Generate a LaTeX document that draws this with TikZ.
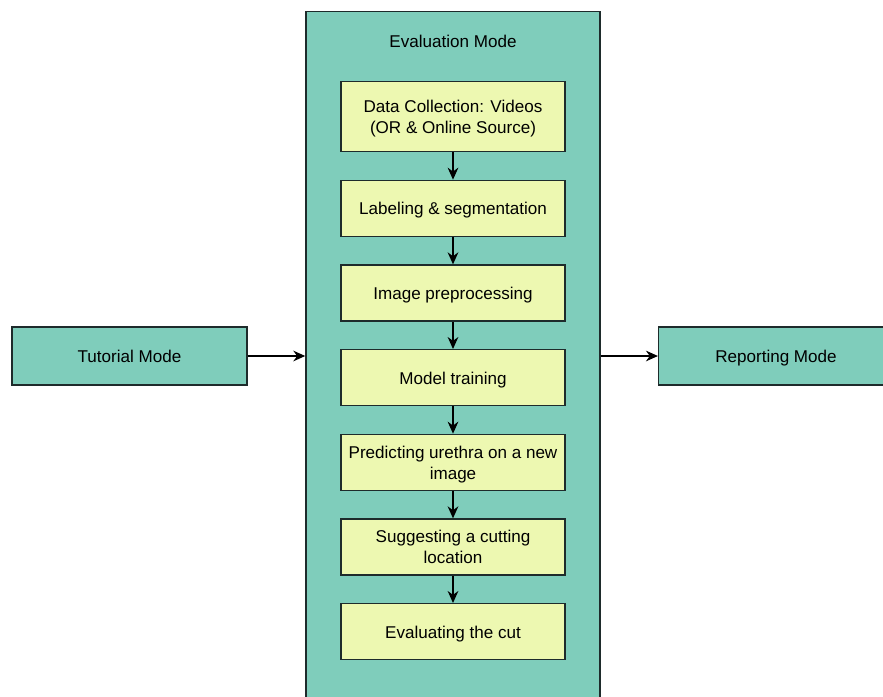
\documentclass[tikz,border=0pt]{standalone}
\usepackage{fontspec}
\setmainfont{Liberation Sans}
\usetikzlibrary{positioning, arrows.meta}
\definecolor{modeteal}{HTML}{7FCDBB}
\definecolor{stepyellow}{HTML}{EDF8B1}
\definecolor{edgegray}{HTML}{1E2B2B}
\tikzset{
  mode/.style={rectangle, minimum width=176pt, minimum height=43.5pt, text centered, text height=10.4pt, text depth=1pt, draw=edgegray, line width=1.1pt, fill=modeteal},
  container/.style={rectangle, minimum width=220.5pt, minimum height=540pt, draw=edgegray, line width=1.1pt, fill=modeteal},
  stage/.style={rectangle, minimum width=168pt, minimum height=42pt, text centered, align=center, draw=edgegray, line width=1.1pt, fill=stepyellow},
  oneline/.style={text height=10.4pt, text depth=1pt},
  twoline/.style={text height=26.1pt, text depth=1pt},
  arrow/.style={line width=1.1pt, -{Stealth[length=9pt, width=8pt]}}
}
\begin{document}
\begin{tikzpicture}[
        x=0.75pt, y=-0.75pt,
        node distance=20.4pt, % gap between the stages
        every node/.style={font=\fontsize{12.8pt}{15.75pt}\selectfont}
    ]
        \clip (0,0) rectangle (883,697);
        \node (evalmode) [container, anchor=north] at (453,11) {};
        \node (evaltitle) [oneline] at (453,41) {Evaluation Mode};

        \node (collect) [stage, twoline, minimum height=52.5pt, anchor=north] at (453,81) {Data Collection: Videos\\(OR \& Online Source)};
        \node (labeling) [stage, oneline, below=of collect] {Labeling \& segmentation};
        \node (preproc) [stage, oneline, below=of labeling] {Image preprocessing};
        \node (training) [stage, oneline, below=of preproc] {Model training};
        \node (predict) [stage, twoline, below=of training] {Predicting urethra on a new\\image};
        \node (suggest) [stage, twoline, below=of predict] {Suggesting a cutting\\location};
        \node (evalcut) [stage, oneline, below=of suggest] {Evaluating the cut};

        \node (tutorial) [mode] at (129.5,356) {Tutorial Mode};
        \node (reporting) [mode] at (776,356) {Reporting Mode};

        \draw [arrow] (collect) -- (labeling);
        \draw [arrow] (labeling) -- (preproc);
        \draw [arrow] (preproc) -- (training);
        \draw [arrow] (training) -- (predict);
        \draw [arrow] (predict) -- (suggest);
        \draw [arrow] (suggest) -- (evalcut);
        \draw [arrow] (tutorial.east) -- (tutorial.east -| evalmode.west);
        \draw [arrow] (reporting.west -| evalmode.east) -- (reporting.west);
    \end{tikzpicture}
\end{document}
